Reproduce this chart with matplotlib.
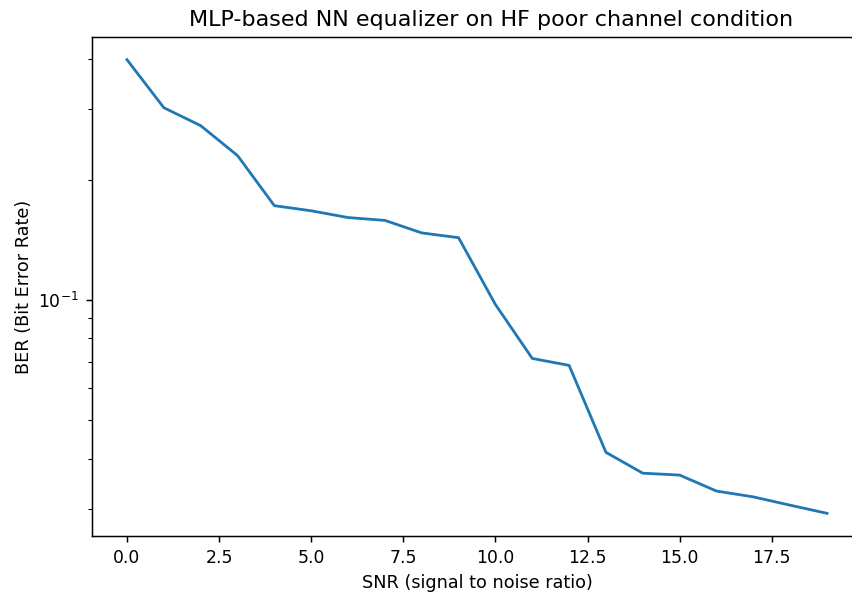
import matplotlib
matplotlib.use("Agg")
import matplotlib.pyplot as plt

snr = list(range(20))
ber = [0.399, 0.3025, 0.2728, 0.2296, 0.172, 0.167, 0.1606, 0.158, 0.147, 0.143,
       0.0973, 0.0713, 0.0685, 0.0415, 0.0368, 0.0364, 0.0332, 0.0321, 0.0306, 0.0292]

s = 4 / 3
plt.rcParams.update({
    "xtick.major.size": 3.5 * s, "ytick.major.size": 3.5 * s,
    "ytick.minor.size": 2 * s, "xtick.major.width": 0.8 * s,
    "ytick.major.width": 0.8 * s, "ytick.minor.width": 0.6 * s,
    "axes.linewidth": 0.8 * s,
})

fig = plt.figure(figsize=(8.52, 5.96), dpi=100)
ax = fig.add_axes([92/852, 1-536/596, 770/852, (536-37)/596])
ax.plot(snr, ber, color="#1f77b4", linewidth=1.5 * s)
ax.set_yscale("log")
ax.set_title("MLP-based NN equalizer on HF poor channel condition", fontsize=16,
             pad=6 * s, x=0.518)
ax.set_xlabel("SNR (signal to noise ratio)", fontsize=12.7, labelpad=4 * s)
ax.set_ylabel("BER (Bit Error Rate)", fontsize=12.7, labelpad=3 * s)
ax.tick_params(labelsize=12.4, pad=3.5 * s)
fig.savefig("out.png", dpi=100)
